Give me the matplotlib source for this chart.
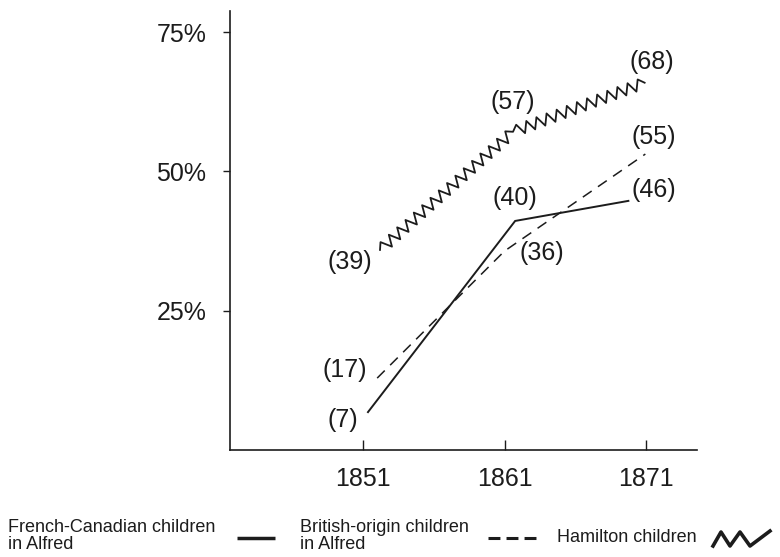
import numpy as np
import matplotlib.pyplot as plt
from matplotlib.lines import Line2D

plt.rcParams['font.family'] = ['Liberation Sans', 'DejaVu Sans']

# values as plotted (percent), with the printed labels
years_fc = [1851.35, 1861.75, 1869.75]
pct_fc = [6.8, 41.1, 44.7]
labels_fc = ['(7)', '(40)', '(46)']

years_br = [1852.0, 1861.0, 1870.95]
pct_br = [12.9, 35.7, 53.1]
labels_br = ['(17)', '(36)', '(55)']

years_ham = [1852.2, 1861.6, 1870.9]
pct_ham = [35.9, 57.1, 65.9]
labels_ham = ['(39)', '(57)', '(68)']

x_ticks = [1851, 1861, 1871]
y_ticks = [25, 50, 75]
y_ticklabels = ['25%', '50%', '75%']

ink = '#1c1c1c'
W, H = 780, 557

fig = plt.figure(figsize=(7.8, 5.57), dpi=100)
ax = fig.add_axes([230 / W, 1 - 450 / H, (697 - 230) / W, (450 - 11) / H])
ax.set_xlim(1841.6, 1874.6)
ax.set_ylim(0, 78.77)

for s in ['top', 'right']:
    ax.spines[s].set_visible(False)
for s in ['left', 'bottom']:
    ax.spines[s].set_linewidth(1.2)
    ax.spines[s].set_color(ink)

ax.set_xticks(x_ticks)
ax.set_xticklabels([str(y) for y in x_ticks])
ax.set_yticks(y_ticks)
ax.set_yticklabels(y_ticklabels)
ax.tick_params(axis='x', direction='in', length=7, width=1, pad=12, labelsize=18, colors=ink)
ax.tick_params(axis='y', direction='out', length=5, width=1, pad=12, labelsize=18, colors=ink)


def zigzag(ax, xs, ys, period=11.0, amp=5.5, **kw):
    pts = ax.transData.transform(np.column_stack([xs, ys]))
    out = []
    for (x0, y0), (x1, y1) in zip(pts[:-1], pts[1:]):
        d = np.hypot(x1 - x0, y1 - y0)
        n = max(int(round(2 * d / period)), 2)
        ux, uy = (x1 - x0) / d, (y1 - y0) / d
        nx, ny = -uy, ux
        for i in range(n + 1):
            if out and i == 0:
                continue
            t = i / n
            off = 0.0 if i in (0, n) else (amp if i % 2 else -amp)
            out.append((x0 + (x1 - x0) * t + nx * off, y0 + (y1 - y0) * t + ny * off))
    data = ax.transData.inverted().transform(np.array(out))
    ax.plot(data[:, 0], data[:, 1], **kw)


ax.plot(years_fc, pct_fc, color=ink, lw=1.4, solid_joinstyle='miter')
ax.plot(years_br, pct_br, color=ink, lw=1.1, linestyle=(0, (7, 5)))
zigzag(ax, years_ham, pct_ham, color=ink, lw=1.3)

lab_kw = dict(textcoords='offset pixels', ha='center', va='center', fontsize=18, color=ink)
offs_fc = [(-25, -8), (0, 23), (25, 11)]
offs_br = [(-32, 8), (37, -2), (8, 17)]
offs_ham = [(-30, -12), (0, 30), (7, 21)]
for xs, ys, labs, offs in [(years_fc, pct_fc, labels_fc, offs_fc),
                           (years_br, pct_br, labels_br, offs_br),
                           (years_ham, pct_ham, labels_ham, offs_ham)]:
    for x, y, t, o in zip(xs, ys, labs, offs):
        ax.annotate(t, (x, y), xytext=o, **lab_kw)

# legend along the bottom


def fx(px):
    return px / W


def fy(py):
    return 1 - py / H


leg_kw = dict(fontsize=13, color=ink, va='center', ha='left', linespacing=0.95)
fig.text(fx(8), fy(536), 'French-Canadian children\nin Alfred', **leg_kw)
fig.text(fx(300), fy(536), 'British-origin children\nin Alfred', **leg_kw)
fig.text(fx(557), fy(538), 'Hamilton children', **leg_kw)

fig.add_artist(Line2D([fx(237), fx(275)], [fy(538), fy(538)], color=ink, lw=2.5,
                      transform=fig.transFigure, solid_capstyle='butt'))
fig.add_artist(Line2D([fx(488), fx(538)], [fy(538), fy(538)], color=ink, lw=2.2,
                      linestyle=(0, (3.9, 2.0)), transform=fig.transFigure))
zx = [713, 721, 730, 740, 750, 770]
zy = [546, 532, 546, 532, 546, 531]
fig.add_artist(Line2D([fx(v) for v in zx], [fy(v) for v in zy], color=ink, lw=2.6,
                      transform=fig.transFigure, solid_joinstyle='round'))

fig.savefig('out.png', dpi=100, facecolor='white')
